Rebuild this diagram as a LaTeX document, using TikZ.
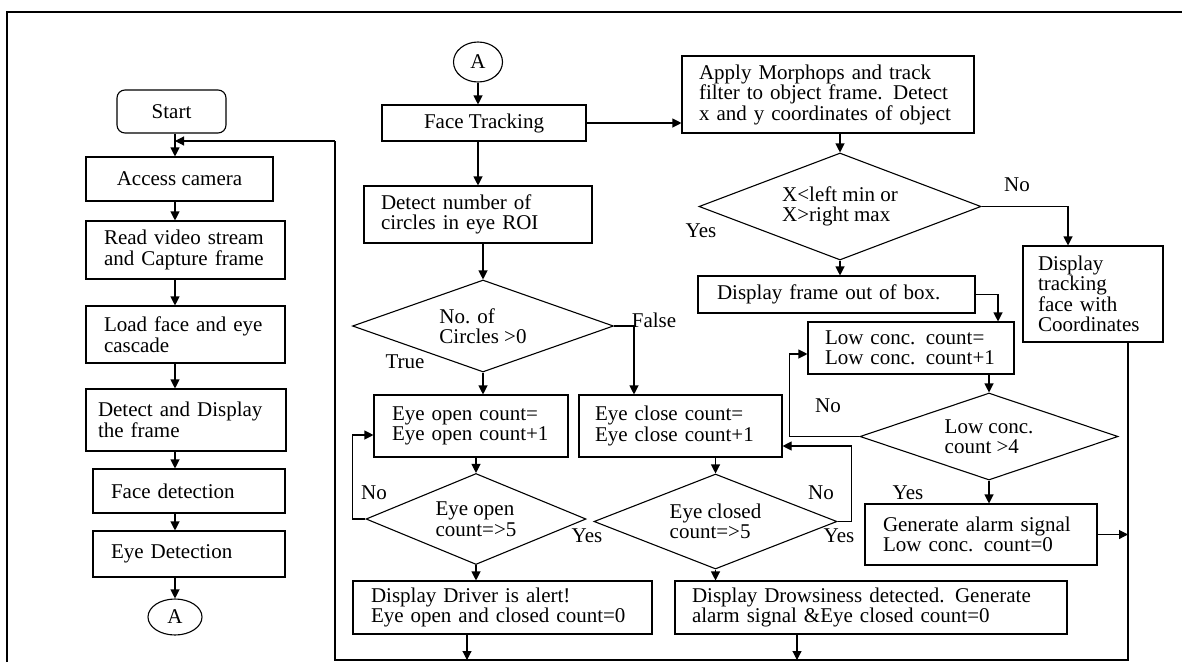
\documentclass[tikz,border=0pt]{standalone}
\usepackage{fontspec}
\setmainfont{Liberation Serif}
\usetikzlibrary{shapes.geometric,arrows.meta}

\begin{document}
\begin{tikzpicture}[x=1pt,y=-1pt,line width=1.1pt,
  txt/.style={font=\fontsize{21}{20.5}\selectfont},
  box/.style={txt,rectangle,draw,align=left,inner ysep=0pt},
  cbox/.style={txt,rectangle,draw,align=center},
  dec/.style={txt,diamond,draw,align=left,inner sep=0pt},
  conn/.style={txt,ellipse,draw,inner sep=0pt},
  lab/.style={txt,inner sep=0pt},
  arr/.style={-{Triangle[length=9pt,width=9pt]}}]
\useasboundingbox (0,0) rectangle (1182,662);
\draw (7,662) -- (7,12) -- (1182,12);

\node[cbox,rounded corners=8pt,minimum width=109pt,minimum height=43pt] (start) at (171.5,111.5) {Start};
\node[cbox,minimum width=187pt,minimum height=44pt] (acc) at (179.5,179) {Access camera};
\node[box,text width=163pt,inner xsep=18pt,minimum height=58pt] (read) at (185.5,250) {Read video stream\\and Capture frame};
\node[box,text width=163pt,inner xsep=18pt,minimum height=57pt] (load) at (185.5,334.5) {Load face and eye\\cascade};
\node[box,text width=176pt,inner xsep=12pt,minimum height=62pt] (ddisp) at (186,420) {Detect and Display\\the frame};
\node[box,text width=156pt,inner xsep=18pt,minimum height=44pt] (face) at (189,491) {Face detection};
\node[box,text width=156pt,inner xsep=18pt,minimum height=46pt] (eye) at (189,554) {Eye Detection};
\node[conn,minimum width=54pt,minimum height=36pt] (a2) at (175,617) {A};

\node[conn,minimum width=49pt,minimum height=40pt] (a1) at (478,62) {A};
\node[cbox,minimum width=204pt,minimum height=36pt] (track) at (484,123) {Face Tracking};
\node[box,text width=194pt,inner xsep=17pt,minimum height=57pt] (circ) at (478,214.5) {Detect number of\\circles in eye ROI};
\node[dec,aspect=2.84,minimum width=261pt,minimum height=92pt] (dcirc) at (483,326) {No. of\\Circles >0};
\node[box,text width=158pt,inner xsep=18pt,minimum height=62pt] (eop) at (471,426) {Eye open count=\\Eye open count+1};
\node[box,text width=171pt,inner xsep=16pt,minimum height=62pt] (ecl) at (680.5,426) {Eye close count=\\Eye close count+1};
\node[dec,aspect=2.42,minimum width=220pt,minimum height=91pt] (deop) at (476,519) {Eye open\\count=>5};
\node[dec,aspect=2.6,minimum width=243pt,minimum height=95pt] (decl) at (715.5,521.5) {Eye closed\\count=>5};
\node[box,text width=263pt,inner xsep=18pt,minimum height=53pt] (alert) at (502.5,607.5) {Display Driver is alert!\\Eye open and closed count=0};
\node[box,text width=358pt,inner xsep=17pt,minimum height=53pt] (drowsy) at (871,607.5) {Display Drowsiness detected. Generate\\alarm signal \&Eye closed count=0};

\node[box,text width=258pt,inner xsep=17pt,minimum height=77pt] (morph) at (828,94.5) {Apply Morphops and track\\filter to object frame. Detect\\x and y coordinates of object};
\node[dec,aspect=2.64,minimum width=282pt,minimum height=107pt] (dx) at (840,206.5) {X<left min or\\X>right max};
\node[box,text width=239pt,inner xsep=19pt,minimum height=37pt] (out) at (836.5,294.5) {Display frame out of box.};
\node[box,text width=110pt,inner xsep=15pt,minimum height=96pt] (trk) at (1093,294) {Display\\tracking\\face with\\Coordinates};
\node[box,text width=172pt,inner xsep=17pt,minimum height=52pt] (low) at (911,348) {Low conc. count=\\Low conc. count+1};
\node[dec,aspect=2.97,minimum width=258pt,minimum height=87pt] (dlow) at (989,436.5) {Low conc.\\count >4};
\node[box,text width=196pt,inner xsep=18pt,minimum height=61pt] (gen) at (981,534.5) {Generate alarm signal\\Low conc. count=0};

\node[lab] (ltrue) at (405,362) {True};
\node[lab] (lfalse) at (654,320) {False};
\node[lab] (lno1) at (374,493) {No};
\node[lab] (lyes1) at (587,536) {Yes};
\node[lab] (lno2) at (821,493) {No};
\node[lab] (lyes2) at (839,536) {Yes};
\node[lab] (lyes3) at (701,231) {Yes};
\node[lab] (lno3) at (1017,185) {No};
\node[lab] (lno4) at (828,406) {No};
\node[lab] (lyes4) at (908,493) {Yes};

\coordinate (br) at (1128,660);
\coordinate (bl) at (335,660);
\coordinate (tl) at (335,141);
\coordinate (da) at (467,660);
\coordinate (dd) at (797,660);

\foreach \a/\b in {start/acc,acc/read,read/load,load/ddisp,ddisp/face,face/eye}
  \draw[arr] (\a.south -| a2) -- (\b.north -| a2);
\draw[arr] (eye.south -| a2) -- (a2.north);

\draw[arr] (a1.south) -- (a1.south |- track.north);
\draw[arr] (track.south -| a1) -- (circ.north -| a1);
\draw[arr] (dcirc.north |- circ.south) -- (dcirc.north);
\draw[arr] (dcirc.south) -- (dcirc.south |- eop.north);
\draw[arr] (dcirc.east) -| ([xshift=-46.5pt]ecl.north);
\draw[arr] (deop.north |- eop.south) -- (deop.north);
\draw[arr] (deop.west) -- ++(-13,0) |- ([yshift=-9pt]eop.west);
\draw[arr] (deop.south) -- (deop.south |- alert.north);
\draw[arr] (decl.north |- ecl.south) -- (decl.north);
\draw[arr] (decl.east) -- ++(14,0) |- ([yshift=-20pt]ecl.east);
\draw[arr] (decl.south) -- (decl.south |- drowsy.north);
\draw[arr] (alert.south -| da) -- (da);
\draw[arr] (drowsy.south -| dd) -- (dd);

\draw[arr] (track.east) -- (track.east -| morph.west);
\draw[arr] (dx.north |- morph.south) -- (dx.north);
\draw[arr] (dx.east) -| ([xshift=-25pt]trk.north);
\draw[arr] (dx.south) -- (dx.south |- out.north);
\draw[arr] (out.east) -| ([xshift=87pt]low.north);
\draw[arr] (dlow.north |- low.south) -- (dlow.north);
\draw[arr] (dlow.west) -- ++(-70,0) |- ([yshift=-6pt]low.west);
\draw[arr] (dlow.south) -- (dlow.south |- gen.north);
\draw[arr] (gen.east) -- (gen.east -| br);
\draw (trk.south -| br) -- (br) -- (bl) -- (tl);
\draw[arr] (tl) -- (tl -| a2);

\end{tikzpicture}
\end{document}
